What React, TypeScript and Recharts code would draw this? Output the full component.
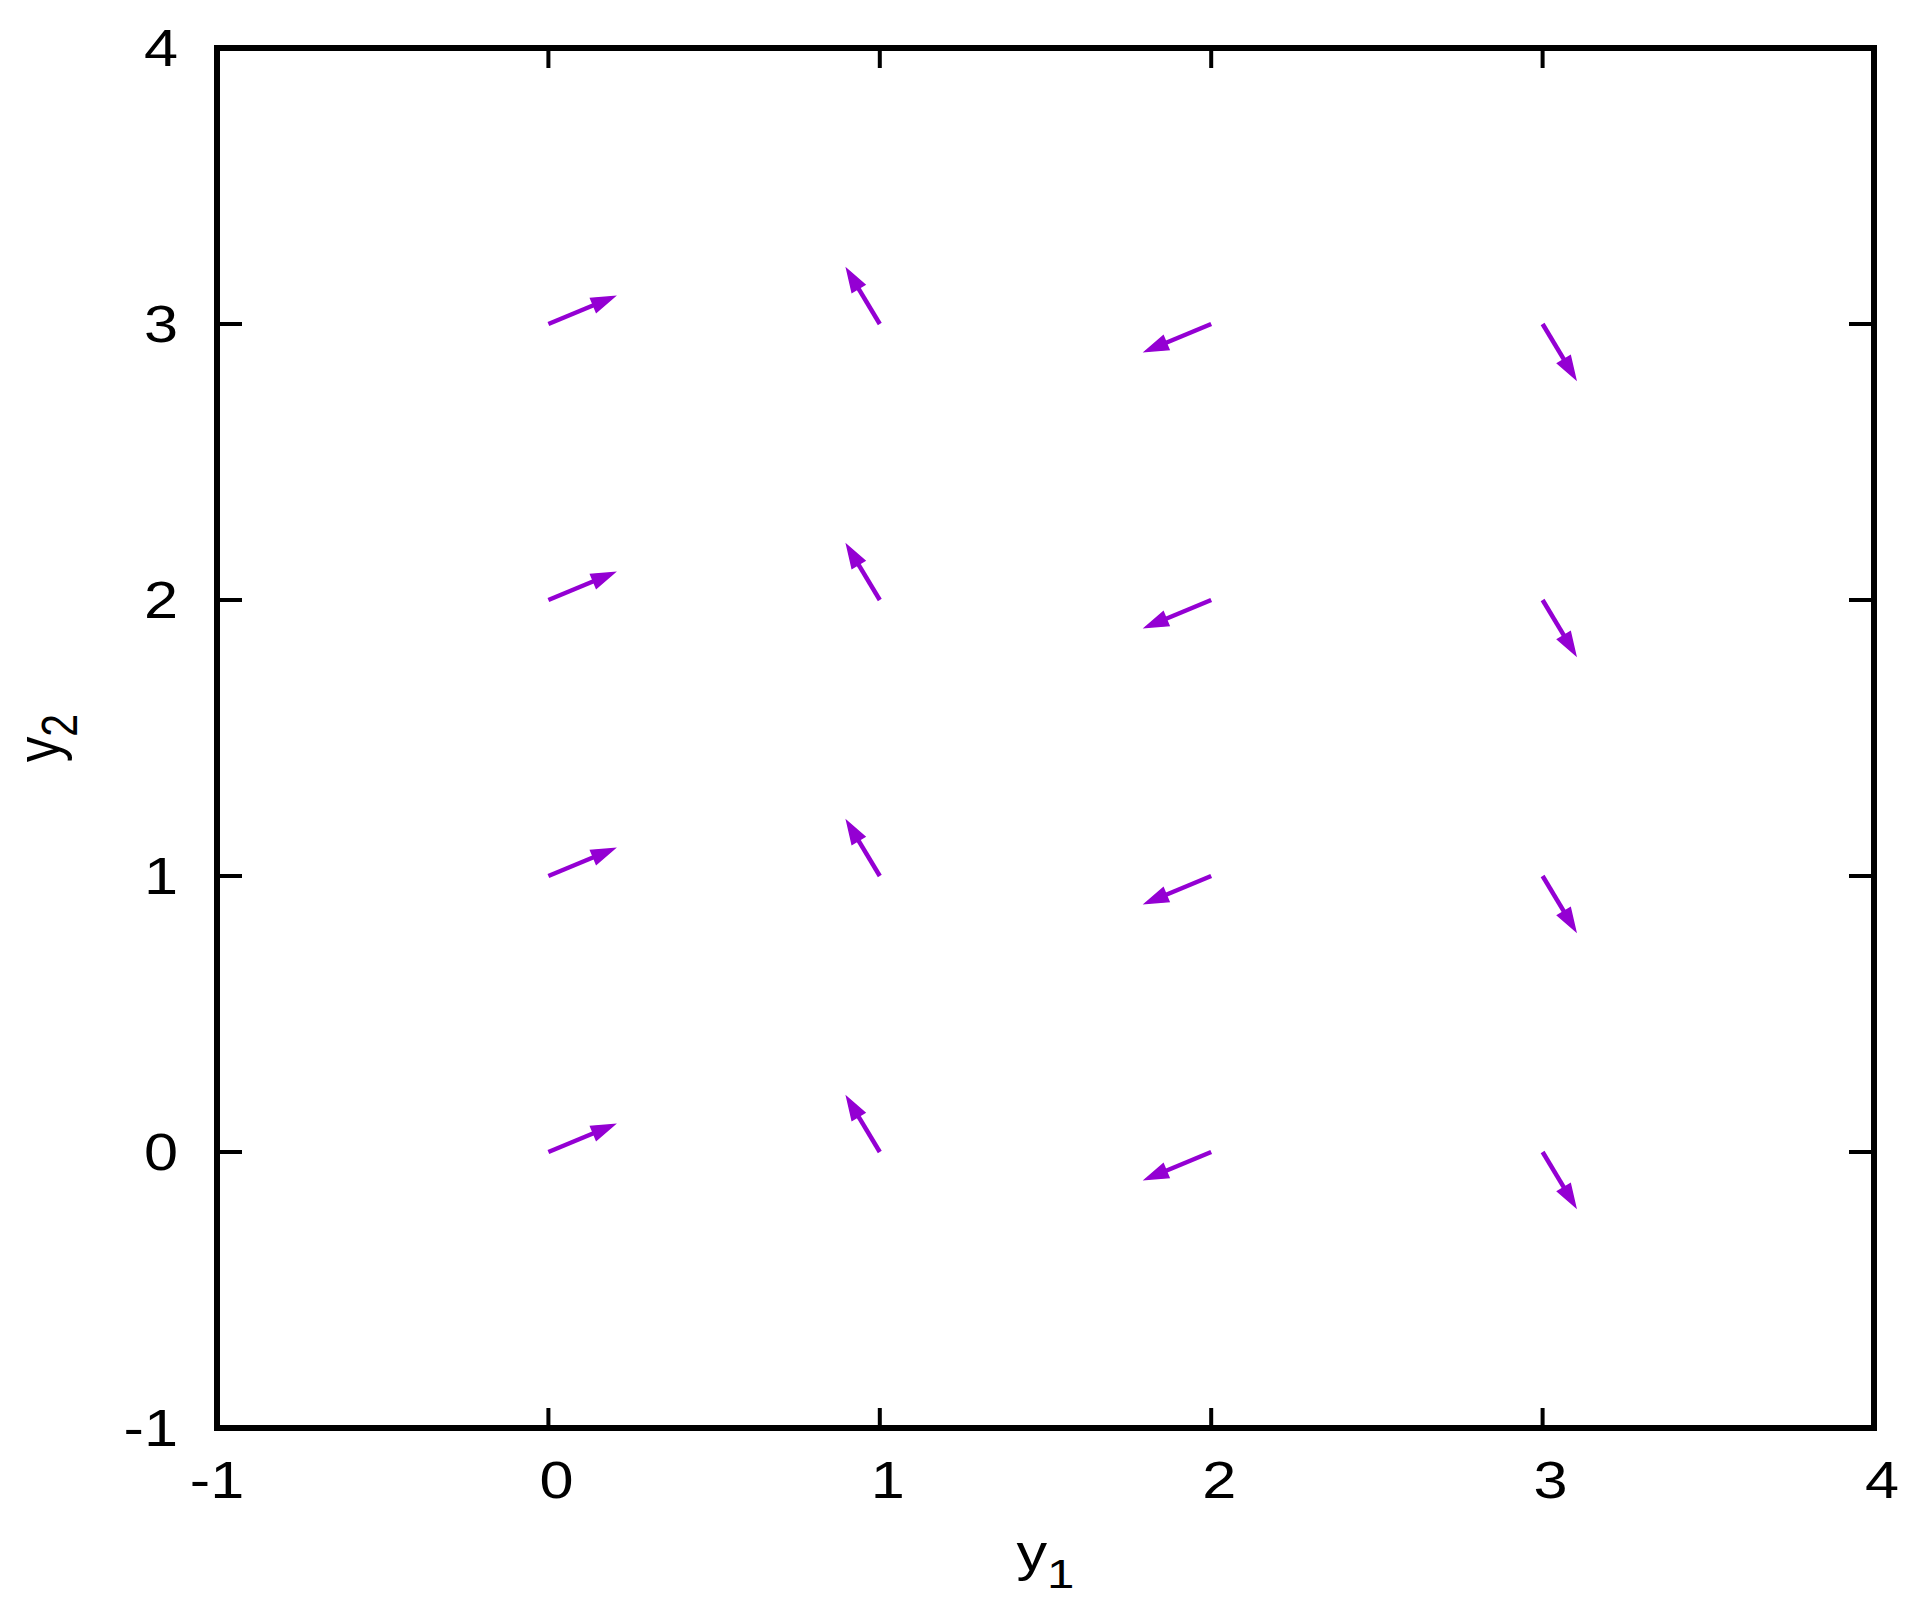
import { ScatterChart, Scatter, XAxis, YAxis, ReferenceLine, ReferenceArea } from "recharts";

// axis ticks
const Y1_TICKS = [-1, 0, 1, 2, 3, 4];
const Y2_TICKS = [-1, 0, 1, 2, 3, 4];

// grid of arrow bases
const COL_Y1 = [0, 1, 2, 3];
const ROW_Y2 = [0, 1, 2, 3];

// arrow components per column (same for every row)
const COL_DY1 = [0.2, -0.1, -0.2, 0.1];
const COL_DY2 = [0.1, 0.2, -0.1, -0.2];

const arrows = ROW_Y2.flatMap((y) =>
  COL_Y1.map((x, i) => ({ x, y, dx: COL_DY1[i], dy: COL_DY2[i] }))
);

const W = 1918;
const H = 1610;
const FONT = "'Liberation Sans', Arial, Helvetica, sans-serif";
const FS = 51;
const SX = 1.2; // reference text is stretched horizontally
const ARROW = "#9400d3";

function BottomTick(props: any) {
  const { x, y, payload } = props;
  const v = payload.value;
  const off = v < 0 ? 0 : 8;
  return (
    <g>
      <line x1={x} y1={y} x2={x} y2={y - 20} stroke="#000" strokeWidth={4} />
      <text transform={`translate(${x + off},${y + 70}) scale(${SX},1)`} textAnchor="middle"
        fontFamily={FONT} fontSize={FS} fill="#000">{v}</text>
    </g>
  );
}

function TopTick(props: any) {
  const { x, y } = props;
  return <line x1={x} y1={y} x2={x} y2={y + 20} stroke="#000" strokeWidth={4} />;
}

function LeftTick(props: any) {
  const { x, y, payload } = props;
  return (
    <g>
      <line x1={x} y1={y} x2={x + 25} y2={y} stroke="#000" strokeWidth={4} />
      <text transform={`translate(${x - 39},${y + 18}) scale(${SX},1)`} textAnchor="end"
        fontFamily={FONT} fontSize={FS} fill="#000">{payload.value}</text>
    </g>
  );
}

function RightTick(props: any) {
  const { x, y } = props;
  return <line x1={x} y1={y} x2={x - 25} y2={y} stroke="#000" strokeWidth={4} />;
}

function ArrowShape(props: any) {
  const { x1, y1, x2, y2 } = props;
  const len = Math.hypot(x2 - x1, y2 - y1) || 1;
  const ux = (x2 - x1) / len;
  const uy = (y2 - y1) / len;
  const hl = 23;
  const hw = 7.5;
  const bx = x2 - ux * hl;
  const by = y2 - uy * hl;
  const pts = `${x2},${y2} ${bx - uy * hw},${by + ux * hw} ${bx + uy * hw},${by - ux * hw}`;
  return (
    <g>
      <line x1={x1} y1={y1} x2={bx + ux * 2} y2={by + uy * 2} stroke={ARROW} strokeWidth={4.5} />
      <polygon points={pts} fill={ARROW} stroke={ARROW} strokeWidth={1.5} strokeLinejoin="miter" />
    </g>
  );
}

function XTitle(props: any) {
  const { viewBox } = props;
  const cx = viewBox.x + viewBox.width / 2;
  return (
    <text transform={`translate(${cx},${viewBox.y + 142}) scale(${SX},1)`} textAnchor="middle"
      fontFamily={FONT} fontSize={FS} fill="#000">
      y<tspan fontSize={41} dy={18}>1</tspan>
    </text>
  );
}

function YTitle(props: any) {
  const { viewBox } = props;
  const cy = viewBox.y + viewBox.height / 2;
  const right = viewBox.x + viewBox.width;
  return (
    <text transform={`translate(${right - 158},${cy}) scale(${SX},1) rotate(-90)`} textAnchor="middle"
      fontFamily={FONT} fontSize={FS} fill="#000">
      y<tspan fontSize={41} dy={15}>2</tspan>
    </text>
  );
}

export default function App() {
  return (
    <div style={{ position: "absolute", left: 0, top: 0, width: W, height: H, background: "#fff" }}>
      <ScatterChart width={W} height={H} margin={{ top: 38, right: 34, bottom: 82, left: 117 }}>
        <XAxis xAxisId={0} type="number" dataKey="x" domain={[-1, 4]} ticks={Y1_TICKS} interval={0}
          height={100} tickSize={0} tickMargin={0} axisLine={false} tickLine={false} tick={BottomTick}
          allowDataOverflow label={XTitle} />
        <XAxis xAxisId="top" orientation="top" type="number" dataKey="x" domain={[-1, 4]} ticks={Y1_TICKS}
          interval={0} height={10} tickSize={0} tickMargin={0} axisLine={false} tickLine={false}
          tick={TopTick} allowDataOverflow />
        <YAxis yAxisId={0} type="number" dataKey="y" domain={[-1, 4]} ticks={Y2_TICKS} interval={0}
          width={100} tickSize={0} tickMargin={0} axisLine={false} tickLine={false} tick={LeftTick}
          allowDataOverflow label={YTitle} />
        <YAxis yAxisId="right" orientation="right" type="number" dataKey="y" domain={[-1, 4]} ticks={Y2_TICKS}
          interval={0} width={10} tickSize={0} tickMargin={0} axisLine={false} tickLine={false}
          tick={RightTick} allowDataOverflow />
        <ReferenceArea x1={-1} x2={4} y1={-1} y2={4} xAxisId={0} yAxisId={0}
          fill="none" fillOpacity={0} stroke="#000" strokeWidth={6} strokeOpacity={1} ifOverflow="visible" />
        <Scatter data={arrows} xAxisId={0} yAxisId={0} isAnimationActive={false} shape={() => <g />} />
        {arrows.map((a, i) => (
          <ReferenceLine key={i} xAxisId={0} yAxisId={0}
            segment={[{ x: a.x, y: a.y }, { x: a.x + a.dx, y: a.y + a.dy }]}
            shape={ArrowShape} ifOverflow="visible" />
        ))}
      </ScatterChart>
    </div>
  );
}
